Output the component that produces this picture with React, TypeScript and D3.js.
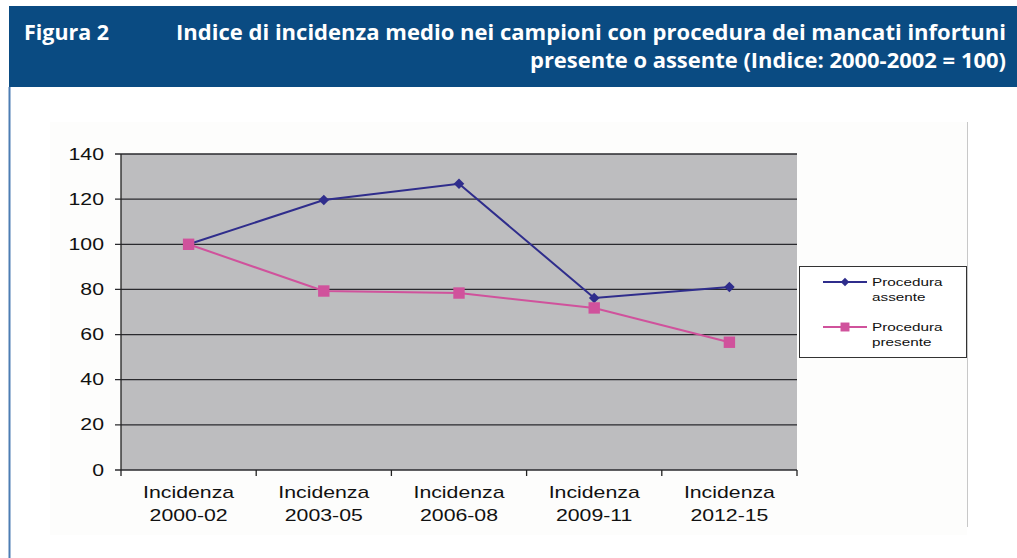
import React from "react";
import * as d3 from "d3";

const categories = ["2000-02", "2003-05", "2006-08", "2009-11", "2012-15"];
const assente = [100, 119.6, 126.8, 76.2, 81.1];
const presente = [100, 79.3, 78.4, 71.8, 56.6];
const yTicks = [0, 20, 40, 60, 80, 100, 120, 140];
const seriesNames = ["Procedura assente", "Procedura presente"];

const W = 1017;
const H = 558;
const plot = { left: 121, right: 797, top: 154, bottom: 470 };
const SX = 1.33; // the source picture is stretched horizontally
const font = "'Liberation Sans', Arial, sans-serif";
const colA = "#2f2d8c";
const colP = "#d0529c";

const App = () => {
  const x = d3
    .scaleBand()
    .domain(categories)
    .range([plot.left, plot.right]);
  const y = d3.scaleLinear().domain([0, 140]).range([plot.bottom, plot.top]);
  const line = d3
    .line<number>()
    .x((_, i) => x(categories[i])! + x.bandwidth() / 2)
    .y((d) => y(d));

  // diamond = square turned by 45 degrees
  const diamond = d3.symbol().type(d3.symbolSquare).size(56)()!;
  const square = d3.symbol().type(d3.symbolSquare).size(130)()!;

  const lx = 799;
  const ly = 266;

  return (
    <svg
      width={W}
      height={H}
      style={{ position: "absolute", left: 0, top: 0, background: "#fff" }}
    >
      {/* header */}
      <rect x={9} y={6} width={W - 9} height={81} fill="#0a4b82" />
      <g fill="#fff" fontFamily="'Open Sans', sans-serif" fontWeight="bold" fontSize={21}>
        <text x={24} y={40} textLength={85} lengthAdjust="spacingAndGlyphs">
          Figura 2
        </text>
        <text x={1006} y={40} textAnchor="end" textLength={830} lengthAdjust="spacingAndGlyphs">
          Indice di incidenza medio nei campioni con procedura dei mancati infortuni
        </text>
        <text x={1006} y={68} textAnchor="end" textLength={476} lengthAdjust="spacingAndGlyphs">
          presente o assente (Indice: 2000-2002 = 100)
        </text>
      </g>
      <line x1={9.5} x2={9.5} y1={87} y2={H} stroke="#4d7db3" strokeWidth={2} />

      {/* chart frame */}
      <rect x={50} y={122} width={917} height={413} fill="#fdfdfc" />
      <line x1={967.5} x2={967.5} y1={122} y2={527} stroke="#c8c8c8" />

      {/* plot */}
      <rect
        x={plot.left}
        y={plot.top}
        width={plot.right - plot.left}
        height={plot.bottom - plot.top}
        fill="#bdbdbf"
      />
      {yTicks.map((t) => (
        <g key={t}>
          <line
            x1={plot.left - 6}
            x2={plot.right}
            y1={y(t)}
            y2={y(t)}
            stroke="#2a2a2e"
            strokeWidth={1.3}
          />
          <text
            transform={`translate(${104},${y(t)}) scale(${SX},1)`}
            textAnchor="end"
            dominantBaseline="central"
            fontFamily={font}
            fontSize={16}
            fill="#111"
          >
            {t}
          </text>
        </g>
      ))}
      <line x1={plot.left} x2={plot.left} y1={plot.top} y2={plot.bottom} stroke="#222" strokeWidth={1.3} />
      {d3.range(categories.length + 1).map((i) => {
        const xx = plot.left + i * x.bandwidth();
        return (
          <line key={i} x1={xx} x2={xx} y1={plot.bottom} y2={plot.bottom + 6} stroke="#222" strokeWidth={1.3} />
        );
      })}
      {categories.map((c) => {
        const cx = x(c)! + x.bandwidth() / 2;
        return (
          <g key={c} fontFamily={font} fontSize={16} fill="#111" textAnchor="middle">
            <text transform={`translate(${cx},${498}) scale(${SX},1)`}>Incidenza</text>
            <text transform={`translate(${cx},${521}) scale(${SX},1)`}>{c}</text>
          </g>
        );
      })}

      {/* series */}
      <path d={line(assente)!} fill="none" stroke={colA} strokeWidth={2} />
      <path d={line(presente)!} fill="none" stroke={colP} strokeWidth={2} />
      {assente.map((v, i) => (
        <path
          key={"a" + i}
          d={diamond}
          transform={`translate(${x(categories[i])! + x.bandwidth() / 2},${y(v)}) rotate(45)`}
          fill={colA}
        />
      ))}
      {presente.map((v, i) => (
        <path
          key={"p" + i}
          d={square}
          transform={`translate(${x(categories[i])! + x.bandwidth() / 2},${y(v)})`}
          fill={colP}
        />
      ))}

      {/* legend */}
      <rect x={lx + 0.5} y={ly + 0.5} width={167} height={91} fill="#fff" stroke="#333" />
      {seriesNames.map((name, i) => {
        const yy = ly + 16 + i * 45;
        const col = i === 0 ? colA : colP;
        const words = name.split(" ");
        return (
          <g key={name}>
            <line x1={lx + 24} x2={lx + 68} y1={yy} y2={yy} stroke={col} strokeWidth={2} />
            <path
              d={d3.symbol().type(d3.symbolSquare).size(i === 0 ? 36 : 80)()!}
              transform={`translate(${lx + 46},${yy})${i === 0 ? " rotate(45)" : ""}`}
              fill={col}
            />
            {words.map((w, j) => (
              <text
                key={w}
                transform={`translate(${lx + 73},${yy + 4 + j * 15}) scale(${SX},1)`}
                fontFamily={font}
                fontSize={11.5}
                fill="#111"
              >
                {w}
              </text>
            ))}
          </g>
        );
      })}
    </svg>
  );
};

export default App;
